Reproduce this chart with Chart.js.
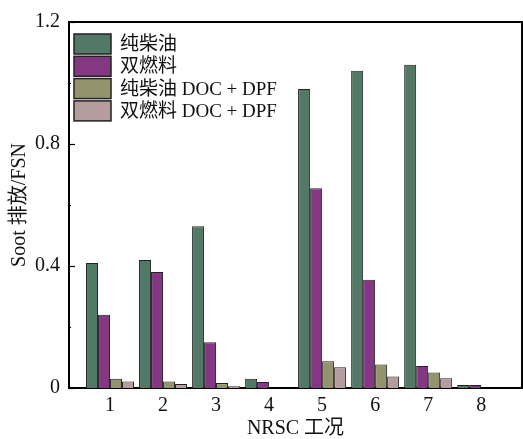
<!DOCTYPE html>
<html>
<head>
<meta charset="utf-8">
<script src="https://cdn.jsdelivr.net/npm/chart.js@4/dist/chart.umd.min.js"></script>
<style>
html,body{margin:0;padding:0;background:#fff;}
#wrap{width:523px;height:439px;}
</style>
</head>
<body>
<div id="wrap"><canvas id="c" width="523" height="439"></canvas></div>
<script>
// ---- data ----
const categories = ['1','2','3','4','5','6','7','8'];
const seriesNames = ['纯柴油','双燃料','纯柴油 DOC + DPF','双燃料 DOC + DPF'];
const pureDiesel     = [0.41, 0.42, 0.53, 0.03, 0.98, 1.04, 1.06, 0.01];
const dualFuel       = [0.24, 0.38, 0.15, 0.02, 0.655, 0.355, 0.072, 0.01];
const pureDieselDPF  = [0.03, 0.021, 0.016, 0.0, 0.088, 0.077, 0.051, 0.0];
const dualFuelDPF    = [0.021, 0.013, 0.006, 0.0, 0.068, 0.038, 0.032, 0.0];
const yTickValues = [0, 0.4, 0.8, 1.2];
const yMinorValues = [0.2, 0.6, 1.0];

const colors = ['#527866', '#843883', '#95936e', '#b69d9d'];
const seriesValues = [pureDiesel, dualFuel, pureDieselDPF, dualFuelDPF];

const FONT = '"Liberation Serif", "Times New Roman", "Noto Sans CJK SC", serif';

const datasets = seriesValues.map((vals, i) => ({
  label: seriesNames[i],
  data: vals.map((v, k) => ({x: Number(categories[k]), y: v})),
  backgroundColor: colors[i],
  borderColor: '#222',
  borderWidth: (c) => (c.raw && c.raw.y === 0 ? 0 : 1),
  categoryPercentage: 0.905,
  barPercentage: 1.0
}));

const framePlugin = {
  id: 'frame',
  afterDraw(chart) {
    const ctx = chart.ctx;
    const a = chart.chartArea;
    const ys = chart.scales.y;
    ctx.save();
    ctx.strokeStyle = '#000';
    ctx.lineWidth = 2;
    ctx.beginPath();
    ctx.moveTo(a.left, a.top);
    ctx.lineTo(a.right, a.top);
    ctx.lineTo(a.right, a.bottom);
    ctx.stroke();
    // inward ticks
    ctx.lineWidth = 1.2;
    yTickValues.forEach(v => {
      const y = Math.round(ys.getPixelForValue(v)) + 0.5;
      ctx.beginPath(); ctx.moveTo(a.left, y); ctx.lineTo(a.left + 6, y); ctx.stroke();
    });
    yMinorValues.forEach(v => {
      const y = Math.round(ys.getPixelForValue(v)) + 0.5;
      ctx.beginPath(); ctx.moveTo(a.left - 1, y); ctx.lineTo(a.left + 2, y); ctx.stroke();
    });
    // legend
    chart.data.datasets.forEach((ds, i) => {
      const bx = 74, by = 34 + 22.3 * i, bw = 37, bh = 20;
      ctx.fillStyle = ds.backgroundColor;
      ctx.fillRect(bx, by, bw, bh);
      ctx.strokeStyle = '#222';
      ctx.lineWidth = 1.5;
      ctx.strokeRect(bx, by, bw, bh);
      ctx.fillStyle = '#111';
      ctx.font = '19px ' + FONT;
      ctx.textBaseline = 'middle';
      ctx.textAlign = 'left';
      ctx.fillText(ds.label, 120, by + bh / 2 + 1);
    });
    ctx.restore();
  }
};

new Chart(document.getElementById('c'), {
  type: 'bar',
  data: { datasets },
  options: {
    responsive: false,
    animation: false,
    devicePixelRatio: 1,
    layout: { padding: { top: 22, right: 1, left: 0, bottom: 0 } },
    plugins: { legend: { display: false }, tooltip: { enabled: false } },
    scales: {
      x: {
        type: 'linear',
        offset: false,
        min: 0.226,
        max: 8.77,
        afterBuildTicks(axis) { axis.ticks = categories.map(c => ({ value: Number(c) })); },
        afterFit(scale) { scale.height = 51; },
        grid: { display: false, drawTicks: false, offset: false },
        border: { display: true, color: '#000', width: 2 },
        ticks: {
          font: { family: FONT, size: 20 },
          color: '#111',
          padding: 6,
          maxRotation: 0,
          autoSkip: false,
          callback: (v) => String(v)
        },
        title: {
          display: true,
          text: 'NRSC 工况',
          font: { family: FONT, size: 20, lineHeight: 1 },
          color: '#111',
          padding: { top: 0, bottom: 0 }
        }
      },
      y: {
        min: 0,
        max: 1.2,
        afterBuildTicks(axis) { axis.ticks = yTickValues.map(v => ({ value: v })); },
        afterFit(scale) { scale.width = 69; },
        grid: { display: false, drawTicks: false },
        border: { display: true, color: '#000', width: 2 },
        ticks: {
          font: { family: FONT, size: 20 },
          color: '#111',
          padding: 9,
          callback: (v) => (v === 0 ? '0' : v.toFixed(1))
        },
        title: {
          display: true,
          text: 'Soot 排放/FSN',
          font: { family: FONT, size: 20, lineHeight: 1 },
          color: '#111',
          padding: { top: 10, bottom: 0 }
        }
      }
    }
  },
  plugins: [framePlugin]
});
</script>
</body>
</html>
